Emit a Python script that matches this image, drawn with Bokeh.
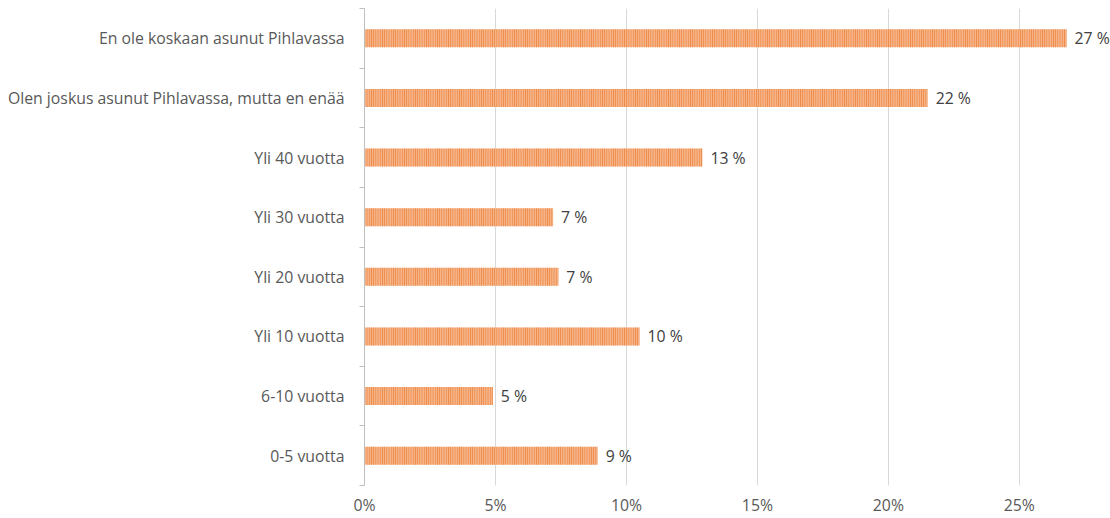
from bokeh.plotting import figure
from bokeh.models import ColumnDataSource, FixedTicker, Range1d, LabelSet
from bokeh.core.properties import value
from bokeh.embed import file_html
from bokeh.resources import INLINE

categories = [
    "En ole koskaan asunut Pihlavassa",
    "Olen joskus asunut Pihlavassa, mutta en enää",
    "Yli 40 vuotta",
    "Yli 30 vuotta",
    "Yli 20 vuotta",
    "Yli 10 vuotta",
    "6-10 vuotta",
    "0-5 vuotta",
]
values = [26.8, 21.5, 12.9, 7.2, 7.4, 10.5, 4.9, 8.9]
value_labels = ["27 %", "22 %", "13 %", "7 %", "7 %", "10 %", "5 %", "9 %"]
x_ticks = [0, 5, 10, 15, 20, 25]
x_tick_labels = ["0%", "5%", "10%", "15%", "20%", "25%"]

n = len(categories)
ypos = [n - 1 - i + 0.5 for i in range(n)]

src = ColumnDataSource(dict(y=ypos, v=values, lab=value_labels, cat=categories))

FONT = "Open Sans"

p = figure(
    width=1110, height=518,
    output_backend="svg", toolbar_location=None,
    x_range=Range1d(0, 28.48), y_range=Range1d(0, n),
    min_border_left=364, min_border_right=0, min_border_top=8, min_border_bottom=28,
    background_fill_color="white", border_fill_color="white",
)
p.outline_line_color = None

p.hbar(
    y="y", right="v", left=0, height=0.3, source=src,
    fill_color="#f5b387", line_color=None,
    hatch_pattern="vertical_line", hatch_color="#ec7f37",
    hatch_scale=2.2, hatch_weight=1.0,
)

labels = LabelSet(
    x="v", y="y", text="lab", source=src, x_offset=8, y_offset=0,
    text_font=value(FONT), text_font_size="15.8px", text_color="#404040",
    text_baseline="middle", text_align="left",
)
p.add_layout(labels)

# x axis
p.xaxis.ticker = FixedTicker(ticks=x_ticks)
p.xaxis.major_label_overrides = {t: l for t, l in zip(x_ticks, x_tick_labels)}
p.xaxis.axis_line_color = None
p.xaxis.major_tick_line_color = None
p.xaxis.major_tick_out = 0
p.xaxis.major_tick_in = 0
p.xaxis.minor_tick_line_color = None
p.xaxis.minor_tick_out = 0
p.xaxis.major_label_text_font = FONT
p.xaxis.major_label_text_font_size = "15.8px"
p.xaxis.major_label_text_color = "#595959"
p.xaxis.major_label_standoff = 8

# y axis
p.yaxis.ticker = FixedTicker(ticks=ypos, minor_ticks=list(range(n + 1)))
p.yaxis.major_label_overrides = {y: c for y, c in zip(ypos, categories)}
p.yaxis.axis_line_color = "#bfbfbf"
p.yaxis.axis_line_width = 1
p.yaxis.major_tick_line_color = None
p.yaxis.major_tick_out = 0
p.yaxis.major_tick_in = 0
p.yaxis.minor_tick_line_color = "#bfbfbf"
p.yaxis.minor_tick_out = 5
p.yaxis.minor_tick_in = 0
p.yaxis.major_label_text_font = FONT
p.yaxis.major_label_text_font_size = "15.8px"
p.yaxis.major_label_text_color = "#595959"
p.yaxis.major_label_standoff = 15

p.xgrid.ticker = FixedTicker(ticks=x_ticks[1:])
p.xgrid.grid_line_color = "#d9d9d9"
p.ygrid.grid_line_color = None

open("out.html", "w").write(file_html(p, INLINE))
